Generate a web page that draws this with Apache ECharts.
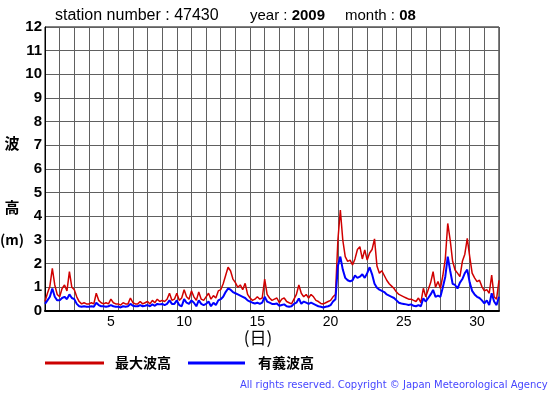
<!DOCTYPE html>
<html>
<head>
<meta charset="utf-8">
<script src="https://cdn.jsdelivr.net/npm/echarts@6/dist/echarts.min.js"></script>
<style>html,body{margin:0;padding:0;background:#fff;}#c{width:555px;height:395px;}</style>
</head>
<body>
<div id="c"></div>
<script>
// 4-hourly values (00,04,08,12,16,20h) for each day of August 2009, station 47430
const stepsPerDay = 6;
const maxWave = [ // 最大波高 (m)
  0.4,0.75,1.05,1.8,1.1,0.7,
  0.6,0.95,1.1,0.85,1.66,1.0,
  0.9,0.6,0.4,0.3,0.35,0.3,
  0.3,0.35,0.3,0.75,0.45,0.35,
  0.3,0.35,0.3,0.5,0.35,0.3,
  0.3,0.25,0.35,0.3,0.3,0.55,
  0.35,0.3,0.3,0.4,0.3,0.35,
  0.4,0.3,0.45,0.35,0.5,0.4,
  0.45,0.4,0.5,0.75,0.45,0.5,
  0.75,0.45,0.55,0.9,0.6,0.5,
  0.85,0.6,0.45,0.8,0.5,0.45,
  0.6,0.75,0.5,0.65,0.55,0.85,
  0.9,1.15,1.5,1.85,1.7,1.35,
  1.2,1.0,1.1,0.9,1.17,0.7,
  0.55,0.45,0.5,0.6,0.5,0.55,
  1.35,0.7,0.55,0.45,0.5,0.55,
  0.35,0.5,0.55,0.4,0.35,0.3,
  0.5,0.7,1.1,0.75,0.6,0.7,
  0.55,0.7,0.6,0.45,0.4,0.32,
  0.3,0.35,0.4,0.45,0.6,0.7,
  3.0,4.27,3.0,2.3,2.1,2.15,
  1.95,2.2,2.6,2.72,2.2,2.58,
  2.15,2.45,2.6,3.05,1.9,1.6,
  1.7,1.5,1.3,1.15,1.05,0.95,
  0.8,0.7,0.65,0.6,0.55,0.5,
  0.5,0.45,0.4,0.55,0.35,0.96,
  0.6,0.9,1.2,1.66,1.0,1.25,
  0.96,1.5,2.2,3.7,3.0,2.1,
  1.73,1.6,1.45,2.1,2.4,3.07,
  2.3,1.6,1.4,1.24,1.3,1.03,
  0.85,0.9,0.75,1.52,0.6,0.5,
  1.3
];
const sigWave = [ // 有義波高 (m)
  0.3,0.45,0.6,0.95,0.6,0.45,
  0.45,0.55,0.6,0.5,0.7,0.55,
  0.5,0.3,0.2,0.18,0.2,0.18,
  0.18,0.2,0.18,0.35,0.25,0.2,
  0.2,0.18,0.2,0.25,0.2,0.18,
  0.18,0.15,0.2,0.18,0.2,0.3,
  0.22,0.2,0.2,0.25,0.2,0.22,
  0.25,0.2,0.28,0.22,0.3,0.28,
  0.3,0.25,0.3,0.45,0.3,0.3,
  0.45,0.25,0.2,0.5,0.35,0.3,
  0.45,0.35,0.2,0.45,0.3,0.25,
  0.3,0.4,0.2,0.35,0.25,0.45,
  0.5,0.6,0.8,0.95,0.9,0.8,
  0.75,0.7,0.65,0.6,0.55,0.45,
  0.4,0.35,0.32,0.35,0.3,0.35,
  0.6,0.4,0.35,0.3,0.3,0.32,
  0.22,0.25,0.28,0.2,0.18,0.2,
  0.3,0.35,0.53,0.3,0.4,0.35,
  0.3,0.35,0.3,0.25,0.2,0.18,
  0.15,0.18,0.2,0.25,0.4,0.5,
  1.9,2.3,1.75,1.4,1.3,1.25,
  1.3,1.5,1.4,1.45,1.55,1.4,
  1.6,1.85,1.55,1.15,0.98,0.9,
  0.85,0.8,0.7,0.65,0.6,0.55,
  0.45,0.35,0.32,0.3,0.28,0.25,
  0.28,0.22,0.2,0.25,0.2,0.54,
  0.4,0.55,0.7,0.89,0.6,0.65,
  0.6,1.0,1.45,2.3,1.7,1.15,
  1.1,0.95,1.2,1.35,1.6,1.75,
  1.2,0.85,0.7,0.6,0.55,0.45,
  0.32,0.45,0.25,0.75,0.4,0.25,
  0.6
];
const dayTickLabels = [5, 10, 15, 20, 25, 30];
const yTicks = [0,1,2,3,4,5,6,7,8,9,10,11,12];
const legendNames = ['最大波高', '有義波高'];
const titleParts = {station: '47430', year: '2009', month: '08'};

const toXY = arr => arr.map((v, i) => [i / stepsPerDay, v]);

const chart = echarts.init(document.getElementById('c'), null, {renderer: 'canvas'});
const latin = '"Liberation Sans", Arial, sans-serif';
const cjk = '"Noto Sans CJK JP", sans-serif';

chart.setOption({
  animation: false,
  backgroundColor: '#fff',
  grid: {left: 45, top: 27, width: 454, height: 284, show: true, borderColor: '#000', borderWidth: 1, backgroundColor: 'transparent'},
  xAxis: [{
    type: 'value', min: 0, max: 31, interval: 1,
    axisLine: {show: true, lineStyle: {color: '#000', width: 2}},
    axisTick: {show: false}, axisLabel: {show: false},
    splitLine: {show: true, lineStyle: {color: '#606060', width: 1}}
  }, {
    type: 'value', min: 0.5, max: 31.5, interval: 0.5, position: 'bottom',
    axisLine: {show: false}, axisTick: {show: false}, splitLine: {show: false},
    axisLabel: {
      show: true, interval: 0, margin: 4, color: '#000', fontFamily: latin, fontSize: 14,
      showMinLabel: true, showMaxLabel: true,
      formatter: v => dayTickLabels.indexOf(v) >= 0 ? String(v) : ''
    }
  }],
  yAxis: {
    type: 'value', min: 0, max: 12, interval: 1,
    axisLine: {show: true, lineStyle: {color: '#000', width: 1}},
    axisTick: {show: false},
    axisLabel: {color: '#000', fontFamily: latin, fontWeight: 'bold', fontSize: 15, margin: 3,
      formatter: v => yTicks.indexOf(v) >= 0 ? String(v) : ''},
    splitLine: {show: true, lineStyle: {color: '#606060', width: 1}}
  },
  series: [{
    name: legendNames[0], type: 'line', xAxisIndex: 0, showSymbol: false,
    data: toXY(maxWave), lineStyle: {color: '#d00000', width: 1.5}, z: 3
  }, {
    name: legendNames[1], type: 'line', xAxisIndex: 0, showSymbol: false,
    data: toXY(sigWave), lineStyle: {color: '#0000ff', width: 2}, z: 4
  }],
  graphic: [
    {type: 'text', left: 55, top: 8, style: {
      text: 'station number : ' + titleParts.station,
      font: '16px ' + latin, fill: '#000'}},
    {type: 'text', left: 250, top: 8, style: {
      text: '{n|year : }{b|' + titleParts.year + '}',
      rich: {n: {fontFamily: latin, fontSize: 15, fill: '#000'}, b: {fontFamily: latin, fontSize: 15, fontWeight: 'bold', fill: '#000'}}}},
    {type: 'text', left: 345, top: 8, style: {
      text: '{n|month : }{b|' + titleParts.month + '}',
      rich: {n: {fontFamily: latin, fontSize: 15, fill: '#000'}, b: {fontFamily: latin, fontSize: 15, fontWeight: 'bold', fill: '#000'}}}},
    {type: 'text', x: 12, y: 143, style: {text: '波', font: 'bold 15px ' + cjk, fill: '#000', align: 'center', verticalAlign: 'middle'}},
    {type: 'text', x: 12, y: 207, style: {text: '高', font: 'bold 15px ' + cjk, fill: '#000', align: 'center', verticalAlign: 'middle'}},
    {type: 'text', x: 12, y: 240, style: {text: '(m)', font: 'bold 14px ' + cjk, fill: '#000', align: 'center', verticalAlign: 'middle'}},
    {type: 'text', x: 258, y: 338, style: {text: '(日)', font: '17px ' + cjk, fill: '#000', align: 'center', verticalAlign: 'middle'}},
    {type: 'line', shape: {x1: 45, y1: 363, x2: 104, y2: 363}, style: {stroke: '#cc0000', lineWidth: 3}},
    {type: 'text', x: 115, y: 363, style: {text: legendNames[0], font: 'bold 14px ' + cjk, fill: '#000', verticalAlign: 'middle'}},
    {type: 'line', shape: {x1: 188, y1: 363, x2: 245, y2: 363}, style: {stroke: '#0000ff', lineWidth: 3}},
    {type: 'text', x: 258, y: 363, style: {text: legendNames[1], font: 'bold 14px ' + cjk, fill: '#000', verticalAlign: 'middle'}},
    {type: 'text', x: 240, y: 385, style: {text: 'All rights reserved. Copyright © Japan Meteorological Agency', font: '10px "DejaVu Sans", sans-serif', fill: '#4646ff', verticalAlign: 'middle'}}
  ]
});
</script>
</body>
</html>
